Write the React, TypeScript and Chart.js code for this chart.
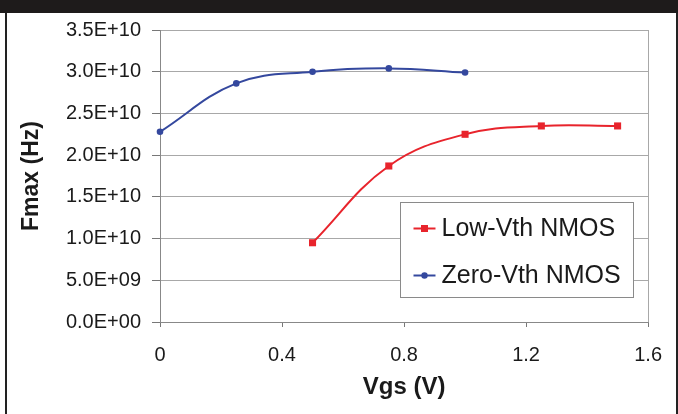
import React, { useEffect, useRef } from "react";
import { Chart, registerables } from "chart.js";
Chart.register(...registerables);

const lowVthLabel = "Low-Vth NMOS";
const lowVthX = [0.5, 0.75, 1.0, 1.25, 1.5];
const lowVthY = [9.5e9, 1.87e10, 2.25e10, 2.35e10, 2.35e10];
const zeroVthLabel = "Zero-Vth NMOS";
const zeroVthX = [0, 0.25, 0.5, 0.75, 1.0];
const zeroVthY = [2.28e10, 2.86e10, 3.0e10, 3.04e10, 2.99e10];
const xTickValues = [0, 0.4, 0.8, 1.2, 1.6];
const xTickLabels = ["0", "0.4", "0.8", "1.2", "1.6"];
const yTickValues = [0, 5e9, 1e10, 1.5e10, 2e10, 2.5e10, 3e10, 3.5e10];
const yTickLabels = ["0.0E+00", "5.0E+09", "1.0E+10", "1.5E+10", "2.0E+10", "2.5E+10", "3.0E+10", "3.5E+10"];
const xTitle = "Vgs (V)";
const yTitle = "Fmax (Hz)";

const RED = "#e8242c";
const BLUE = "#34489e";
const FONT = "'Liberation Sans', Arial, sans-serif";

const legendPlugin = {
  id: "insideLegend",
  afterDraw(chart: any) {
    const { ctx, chartArea } = chart;
    const w = 233, h = 95;
    const x0 = Math.round(chartArea.right - 248) + 0.5;
    const y0 = Math.round(chartArea.top + 172) + 0.5;
    ctx.save();
    ctx.fillStyle = "#ffffff";
    ctx.fillRect(x0, y0, w, h);
    ctx.strokeStyle = "#8a8a8a";
    ctx.lineWidth = 1;
    ctx.strokeRect(x0, y0, w, h);
    chart.data.datasets.forEach((ds: any, i: number) => {
      const cy = y0 + 26 + i * 47;
      const lx = x0 + 13;
      ctx.strokeStyle = ds.borderColor;
      ctx.lineWidth = 2;
      ctx.beginPath();
      ctx.moveTo(lx, cy);
      ctx.lineTo(lx + 22, cy);
      ctx.stroke();
      ctx.fillStyle = ds.borderColor;
      if (ds.pointStyle === "rect") {
        ctx.fillRect(lx + 11 - 3.5, cy - 3.5, 7, 7);
      } else {
        ctx.beginPath();
        ctx.arc(lx + 11, cy, 3.2, 0, Math.PI * 2);
        ctx.fill();
      }
      ctx.fillStyle = "#1a1a1a";
      ctx.font = `25px ${FONT}`;
      ctx.textBaseline = "middle";
      ctx.textAlign = "left";
      ctx.fillText(ds.label, x0 + 41, cy + 1);
    });
    ctx.restore();
  },
};

export default function App() {
  const ref = useRef<HTMLCanvasElement | null>(null);
  useEffect(() => {
    document.body.style.margin = "0";
    const canvas = ref.current!;
    const chart = new Chart(canvas, {
      type: "line",
      data: {
        datasets: [
          {
            label: lowVthLabel,
            data: lowVthX.map((x, i) => ({ x, y: lowVthY[i] })),
            borderColor: RED,
            backgroundColor: RED,
            borderWidth: 2,
            pointStyle: "rect",
            pointRadius: 5,
            pointBorderWidth: 0,
            tension: 0.4,
            clip: 8,
          },
          {
            label: zeroVthLabel,
            data: zeroVthX.map((x, i) => ({ x, y: zeroVthY[i] })),
            borderColor: BLUE,
            backgroundColor: BLUE,
            borderWidth: 2,
            pointStyle: "circle",
            pointRadius: 3.3,
            pointBorderWidth: 0,
            tension: 0.4,
            clip: 8,
          },
        ],
      },
      options: {
        responsive: false,
        animation: false,
        devicePixelRatio: 1,
        layout: { padding: { top: 30, right: 28, left: 0, bottom: 0 } },
        plugins: { legend: { display: false }, tooltip: { enabled: false } },
        scales: {
          x: {
            type: "linear",
            min: 0,
            max: 1.6,
            afterBuildTicks: (s: any) => {
              s.ticks = xTickValues.map((v) => ({ value: v }));
            },
            afterFit: (s: any) => {
              s.height = 92;
            },
            ticks: {
              callback: (_v: any, i: number) => xTickLabels[i],
              font: { family: FONT, size: 20 },
              color: "#1a1a1a",
              padding: 16,
              maxRotation: 0,
            },
            grid: {
              drawOnChartArea: true,
              color: (c: any) => (c.tick && c.tick.value === 1.6 ? "#a8a8a8" : "rgba(0,0,0,0)"),
              tickColor: "#777",
              tickLength: 5,
            },
            border: { display: true, color: "#888", width: 1 },
            title: {
              display: true,
              text: xTitle,
              font: { family: FONT, size: 24, weight: "bold" },
              color: "#1a1a1a",
              padding: { top: 0, bottom: 12 },
            },
          },
          y: {
            type: "linear",
            min: 0,
            max: 3.5e10,
            afterBuildTicks: (s: any) => {
              s.ticks = yTickValues.map((v) => ({ value: v }));
            },
            afterFit: (s: any) => {
              s.width = 160;
            },
            ticks: {
              callback: (_v: any, i: number) => yTickLabels[i],
              font: { family: FONT, size: 20 },
              color: "#1a1a1a",
              padding: 11,
            },
            grid: {
              color: "#a8a8a8",
              tickColor: "#777",
              tickLength: 8,
            },
            border: { display: true, color: "#888", width: 1 },
            title: {
              display: true,
              text: yTitle,
              font: { family: FONT, size: 23, weight: "bold" },
              color: "#1a1a1a",
              padding: { top: 18, bottom: 0 },
            },
          },
        },
      },
      plugins: [legendPlugin],
    } as any);
    return () => chart.destroy();
  }, []);

  return (
    <div style={{ position: "fixed", left: 0, top: 0, width: 678, height: 414, background: "#ffffff", overflow: "hidden" }}>
      <div style={{ position: "absolute", left: 0, top: 0, width: 678, height: 13, background: "#1e1b1b" }} />
      <div style={{ position: "absolute", left: 5, top: 13, width: 2, height: 401, background: "#222" }} />
      <div style={{ position: "absolute", left: 676, top: 13, width: 2, height: 401, background: "#222" }} />
      <canvas ref={ref} width={678} height={414} style={{ position: "absolute", left: 0, top: 0, width: 678, height: 414 }} />
    </div>
  );
}
